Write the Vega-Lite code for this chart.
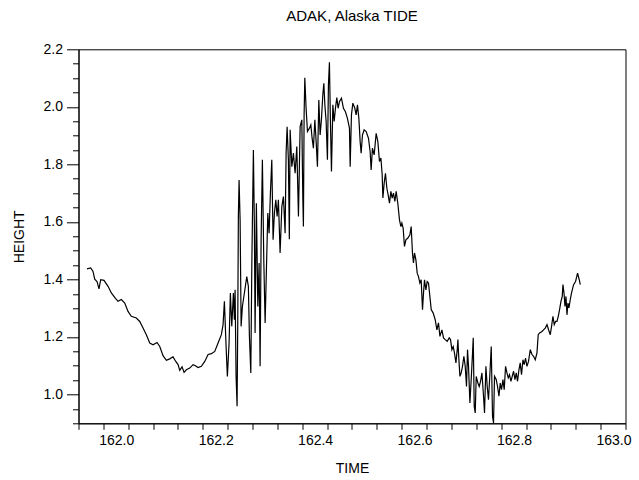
{
  "$schema": "https://vega.github.io/schema/vega-lite/v6.json",
  "autosize": "none",
  "width": 547,
  "height": 374,
  "padding": {"left": 78.5, "top": 49.3, "right": 13.5, "bottom": 56.7},
  "background": "white",
  "title": {"text": "ADAK, Alaska TIDE", "font": "Liberation Sans", "fontSize": 15, "fontWeight": "normal", "color": "black", "anchor": "middle", "offset": 18},
  "data": {"values": [
{"t":161.9171,"h":1.437},{"t":161.9245,"h":1.440},{"t":161.9292,"h":1.428},{"t":161.9326,"h":1.401},{"t":161.9372,"h":1.393},{"t":161.9412,"h":1.367},{"t":161.9447,"h":1.399},{"t":161.9513,"h":1.397},{"t":161.9594,"h":1.376},{"t":161.9660,"h":1.353},{"t":161.9740,"h":1.335},{"t":161.9795,"h":1.324},{"t":161.9861,"h":1.330},{"t":161.9930,"h":1.318},{"t":161.9996,"h":1.289},{"t":162.0062,"h":1.272},{"t":162.0163,"h":1.266},{"t":162.0231,"h":1.254},{"t":162.0298,"h":1.231},{"t":162.0364,"h":1.208},{"t":162.0433,"h":1.179},{"t":162.0499,"h":1.173},{"t":162.0579,"h":1.181},{"t":162.0634,"h":1.167},{"t":162.0700,"h":1.135},{"t":162.0767,"h":1.119},{"t":162.0835,"h":1.124},{"t":162.0901,"h":1.131},{"t":162.0956,"h":1.115},{"t":162.1002,"h":1.104},{"t":162.1036,"h":1.084},{"t":162.1083,"h":1.096},{"t":162.1123,"h":1.077},{"t":162.1169,"h":1.086},{"t":162.1237,"h":1.092},{"t":162.1304,"h":1.104},{"t":162.1350,"h":1.100},{"t":162.1404,"h":1.094},{"t":162.1471,"h":1.098},{"t":162.1539,"h":1.115},{"t":162.1606,"h":1.139},{"t":162.1672,"h":1.142},{"t":162.1740,"h":1.150},{"t":162.1807,"h":1.179},{"t":162.1873,"h":1.208},{"t":162.1907,"h":1.243},
{"t":162.1934,"h":1.324},{"t":162.1968,"h":1.167},{"t":162.1994,"h":1.063},{"t":162.2028,"h":1.179},{"t":162.2054,"h":1.353},{"t":162.2082,"h":1.237},{"t":162.2115,"h":1.353},{"t":162.2135,"h":1.260},{"t":162.2149,"h":1.364},{"t":162.2169,"h":1.063},{"t":162.2189,"h":0.959},{"t":162.2203,"h":1.260},{"t":162.2215,"h":1.619},{"t":162.2229,"h":1.746},{"t":162.2250,"h":1.607},{"t":162.2270,"h":1.237},{"t":162.2296,"h":1.306},{"t":162.2336,"h":1.353},{"t":162.2384,"h":1.410},{"t":162.2416,"h":1.376},{"t":162.2437,"h":1.202},{"t":162.2465,"h":1.075},{"t":162.2485,"h":1.445},{"t":162.2517,"h":1.850},{"t":162.2537,"h":1.584},{"t":162.2551,"h":1.214},{"t":162.2577,"h":1.665},{"t":162.2606,"h":1.306},{"t":162.2632,"h":1.457},{"t":162.2652,"h":1.098},{"t":162.2672,"h":1.538},{"t":162.2698,"h":1.816},{"t":162.2726,"h":1.468},{"t":162.2753,"h":1.249},{"t":162.2787,"h":1.492},{"t":162.2807,"h":1.631},{"t":162.2833,"h":1.561},{"t":162.2859,"h":1.700},{"t":162.2887,"h":1.816},{"t":162.2913,"h":1.538},{"t":162.2940,"h":1.631},{"t":162.2968,"h":1.677},{"t":162.2994,"h":1.619},{"t":162.3020,"h":1.677},{"t":162.3054,"h":1.492},{"t":162.3089,"h":1.653},{"t":162.3121,"h":1.688},{"t":162.3155,"h":1.561},{"t":162.3175,"h":1.839},{"t":162.3195,"h":1.931},{"t":162.3221,"h":1.816},{"t":162.3240,"h":1.540},{"t":162.3256,"h":1.920},{"t":162.3290,"h":1.792},{"t":162.3322,"h":1.839},{"t":162.3356,"h":1.769},{"t":162.3390,"h":1.862},{"t":162.3423,"h":1.619},{"t":162.3457,"h":1.931},{"t":162.3491,"h":1.955},
{"t":162.3511,"h":1.683},{"t":162.3523,"h":1.584},{"t":162.3537,"h":1.972},{"t":162.3551,"h":2.101},{"t":162.3577,"h":1.995},{"t":162.3604,"h":1.914},{"t":162.3644,"h":1.926},{"t":162.3672,"h":1.937},{"t":162.3698,"h":1.891},{"t":162.3724,"h":1.856},{"t":162.3753,"h":1.955},{"t":162.3779,"h":1.879},{"t":162.3805,"h":1.792},{"t":162.3833,"h":2.024},{"t":162.3859,"h":1.902},{"t":162.3885,"h":1.955},{"t":162.3913,"h":2.041},{"t":162.3934,"h":2.082},{"t":162.3954,"h":2.007},{"t":162.3980,"h":1.949},{"t":162.4006,"h":1.816},{"t":162.4026,"h":2.076},{"t":162.4046,"h":2.155},{"t":162.4066,"h":1.949},{"t":162.4087,"h":1.775},{"t":162.4115,"h":2.007},{"t":162.4141,"h":1.949},{"t":162.4167,"h":1.995},{"t":162.4195,"h":2.032},{"t":162.4221,"h":1.995},{"t":162.4247,"h":2.018},{"t":162.4288,"h":2.030},{"t":162.4328,"h":1.995},{"t":162.4368,"h":1.983},{"t":162.4408,"h":1.960},{"t":162.4449,"h":1.926},{"t":162.4463,"h":1.792},{"t":162.4489,"h":1.972},{"t":162.4517,"h":2.013},{"t":162.4557,"h":1.995},{"t":162.4583,"h":1.972},{"t":162.4610,"h":2.007},{"t":162.4638,"h":1.960},{"t":162.4664,"h":1.879},{"t":162.4684,"h":1.839},{"t":162.4710,"h":1.902},{"t":162.4744,"h":1.920},{"t":162.4785,"h":1.914},{"t":162.4831,"h":1.891},{"t":162.4865,"h":1.844},{"t":162.4885,"h":1.781},{"t":162.4911,"h":1.856},{"t":162.4946,"h":1.833},{"t":162.4986,"h":1.908},{"t":162.5020,"h":1.879},{"t":162.5052,"h":1.810},{"t":162.5081,"h":1.822},{"t":162.5107,"h":1.764},{"t":162.5121,"h":1.683},{"t":162.5147,"h":1.735},{"t":162.5173,"h":1.769},{"t":162.5201,"h":1.717},{"t":162.5227,"h":1.694},{"t":162.5254,"h":1.665},{"t":162.5282,"h":1.706},{"t":162.5308,"h":1.683},{"t":162.5334,"h":1.700},{"t":162.5362,"h":1.671},{"t":162.5388,"h":1.706},
{"t":162.5421,"h":1.665},{"t":162.5455,"h":1.607},{"t":162.5483,"h":1.584},{"t":162.5503,"h":1.596},{"t":162.5529,"h":1.578},{"t":162.5555,"h":1.515},{"t":162.5584,"h":1.538},{"t":162.5624,"h":1.544},{"t":162.5664,"h":1.555},{"t":162.5690,"h":1.584},{"t":162.5716,"h":1.492},{"t":162.5736,"h":1.457},{"t":162.5757,"h":1.492},{"t":162.5785,"h":1.468},{"t":162.5811,"h":1.422},{"t":162.5837,"h":1.410},{"t":162.5865,"h":1.388},{"t":162.5891,"h":1.399},{"t":162.5918,"h":1.295},{"t":162.5938,"h":1.353},{"t":162.5958,"h":1.399},{"t":162.5986,"h":1.364},{"t":162.6012,"h":1.393},{"t":162.6038,"h":1.388},{"t":162.6066,"h":1.341},{"t":162.6093,"h":1.295},{"t":162.6133,"h":1.283},{"t":162.6173,"h":1.260},{"t":162.6207,"h":1.225},{"t":162.6239,"h":1.249},{"t":162.6268,"h":1.202},{"t":162.6308,"h":1.225},{"t":162.6340,"h":1.197},{"t":162.6374,"h":1.191},{"t":162.6414,"h":1.185},{"t":162.6455,"h":1.197},{"t":162.6481,"h":1.191},{"t":162.6509,"h":1.156},{"t":162.6535,"h":1.167},{"t":162.6561,"h":1.144},{"t":162.6590,"h":1.110},{"t":162.6616,"h":1.156},{"t":162.6630,"h":1.191},{"t":162.6642,"h":1.144},{"t":162.6670,"h":1.063},{"t":162.6696,"h":1.075},{"t":162.6722,"h":1.098},{"t":162.6750,"h":1.133},{"t":162.6777,"h":1.098},{"t":162.6803,"h":1.028},{"t":162.6823,"h":1.156},{"t":162.6843,"h":1.098},{"t":162.6871,"h":0.971},{"t":162.6897,"h":1.052},{"t":162.6924,"h":1.144},{"t":162.6938,"h":1.197},{"t":162.6958,"h":0.959},{"t":162.6978,"h":0.936},{"t":162.6998,"h":1.063},{"t":162.7032,"h":1.040},{"t":162.7058,"h":1.028},{"t":162.7085,"h":1.046},{"t":162.7113,"h":1.075},{"t":162.7145,"h":0.994},{"t":162.7165,"h":0.936},{"t":162.7193,"h":1.098},{"t":162.7219,"h":1.028},{"t":162.7245,"h":0.982},{"t":162.7274,"h":1.075},{"t":162.7300,"h":1.167},{"t":162.7326,"h":0.924},{"t":162.7346,"h":0.901},{"t":162.7366,"h":1.063},{"t":162.7400,"h":1.052},{"t":162.7427,"h":1.028},{"t":162.7455,"h":0.994},{"t":162.7481,"h":1.040},{"t":162.7507,"h":1.017},{"t":162.7535,"h":1.052},{"t":162.7561,"h":1.017},{"t":162.7588,"h":1.098},{"t":162.7616,"h":1.075},{"t":162.7642,"h":1.058},{"t":162.7668,"h":1.069},{"t":162.7696,"h":1.046},{"t":162.7722,"h":1.063},{"t":162.7749,"h":1.081},{"t":162.7777,"h":1.052},{"t":162.7803,"h":1.075},{"t":162.7829,"h":1.046},{"t":162.7857,"h":1.086},{"t":162.7883,"h":1.110},{"t":162.7909,"h":1.069},{"t":162.7938,"h":1.121},{"t":162.7964,"h":1.104},{"t":162.7990,"h":1.127},{"t":162.8018,"h":1.098},{"t":162.8050,"h":1.115},{"t":162.8085,"h":1.156},{"t":162.8119,"h":1.139},{"t":162.8151,"h":1.133},{"t":162.8185,"h":1.121},{"t":162.8219,"h":1.144},{"t":162.8245,"h":1.208},{"t":162.8272,"h":1.214},{"t":162.8320,"h":1.219},{"t":162.8352,"h":1.225},{"t":162.8386,"h":1.231},{"t":162.8421,"h":1.243},{"t":162.8453,"h":1.225},{"t":162.8487,"h":1.208},{"t":162.8513,"h":1.237},{"t":162.8541,"h":1.272},{"t":162.8567,"h":1.243},{"t":162.8594,"h":1.254},{"t":162.8622,"h":1.254},{"t":162.8648,"h":1.272},{"t":162.8674,"h":1.295},{"t":162.8702,"h":1.324},{"t":162.8728,"h":1.341},{"t":162.8742,"h":1.382},{"t":162.8763,"h":1.353},{"t":162.8783,"h":1.306},{"t":162.8803,"h":1.341},{"t":162.8823,"h":1.277},{"t":162.8843,"h":1.318},{"t":162.8863,"h":1.301},{"t":162.8889,"h":1.330},{"t":162.8915,"h":1.353},{"t":162.8956,"h":1.382},{"t":162.8996,"h":1.393},{"t":162.9036,"h":1.422},{"t":162.9070,"h":1.399},{"t":162.9091,"h":1.382}
  ]},
  "mark": {"type": "line", "color": "black", "strokeWidth": 1.2, "clip": true},
  "encoding": {
    "x": {
      "field": "t", "type": "quantitative",
      "scale": {"domain": [161.9, 163.0], "nice": false, "zero": false},
      "axis": {
        "title": "TIME",
        "values": [161.9,161.95,162.0,162.05,162.1,162.15,162.2,162.25,162.3,162.35,162.4,162.45,162.5,162.55,162.6,162.65,162.7,162.75,162.8,162.85,162.9,162.95,163.0],
        "labelExpr": "abs(datum.value*5 - round(datum.value*5)) < 0.001 ? format(datum.value, '.1f') : ''",
        "labelOffset": -12,
        "labelPadding": 4,
        "tickSize": 6,
        "titlePadding": 14,
        "grid": false
      }
    },
    "y": {
      "field": "h", "type": "quantitative",
      "scale": {"domain": [0.9, 2.2], "nice": false, "zero": false},
      "axis": {
        "title": "HEIGHT",
        "values": [0.9,0.95,1.0,1.05,1.1,1.15,1.2,1.25,1.3,1.35,1.4,1.45,1.5,1.55,1.6,1.65,1.7,1.75,1.8,1.85,1.9,1.95,2.0,2.05,2.1,2.15,2.2],
        "labelExpr": "abs(datum.value*5 - round(datum.value*5)) < 0.001 ? format(datum.value, '.1f') : ''",
        "tickSize": {"condition": {"test": "abs(datum.value*5 - round(datum.value*5)) < 0.001", "value": 12}, "value": 6},
        "labelPadding": 4,
        "titlePadding": 17,
        "grid": false
      }
    }
  },
  "config": {
    "view": {"stroke": "black", "strokeWidth": 1},
    "axis": {
      "domainColor": "black", "tickColor": "black", "labelColor": "black", "titleColor": "black",
      "labelFont": "Liberation Sans", "titleFont": "Liberation Sans",
      "labelFontSize": 14, "titleFontSize": 14, "titleFontWeight": "normal",
      "labelFlush": false, "labelOverlap": false
    }
  }
}
